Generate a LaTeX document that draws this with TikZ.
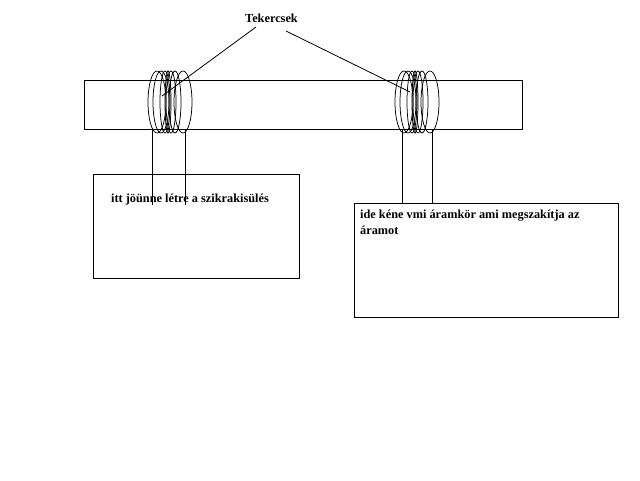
\documentclass[tikz,border=0pt]{standalone}
\usepackage{fontspec}
\setmainfont{Liberation Serif}
\usetikzlibrary{
  positioning,
  shapes.geometric
}

\begin{document}
\begin{tikzpicture}[
  x=1pt, y=-1pt,
  bar/.style={draw, line width=1pt, inner sep=0pt, minimum width=438pt, minimum height=49pt},
  box/.style={draw, line width=1pt, inner sep=0pt},
  coil/.style={draw, ellipse, line width=0.75pt, inner sep=0pt, minimum height=62pt},
  lead/.style={line width=1pt},
  pointer/.style={line width=0.8pt},
  label/.style={font=\bfseries\fontsize{12.3}{16}\selectfont, inner sep=0pt, anchor=base west},
]
\useasboundingbox (0,0) rectangle (640,480);

\node[bar] (bar) at (303,104.5) {};
\node[box, minimum width=206pt, minimum height=104pt, below right=44pt and 9pt of bar.south west] (leftbox) {};
\node[box, minimum width=264pt, minimum height=114pt] (rightbox) at (486,260) {};

% coils
\foreach \cx/\wd [count=\i] in {157/18, 161/16, 165/10, 168/6, 171/10, 175/12, 183/18} {
  \node[coil, minimum width=\wd pt] (coilA\i) at (\cx,102) {};
  \node[coil, minimum width=\wd pt] (coilB\i) at (\cx+247,102) {};
}

\node[label] (title) at (245,22) {Tekercsek};
\node[label] (lefttext) at (111,202) {itt jöünne létre a szikrakisülés};
\node[label] (righttext) at (360,218) {ide kéne vmi áramkör ami megszakítja az};
\node[label] (righttext2) at (360,234) {áramot};

\coordinate (leadA) at (152,129);
\coordinate (leadB) at (185,129);
\coordinate (leadAend) at (152,205);
\coordinate (leadBend) at (185,205);
\coordinate (leadC) at (402,129);
\coordinate (leadD) at (432,129);
\coordinate (leadCend) at (402,203);
\coordinate (leadDend) at (432,203);
\coordinate (tipA) at (162,96);
\coordinate (tipB) at (410,92);
\coordinate (startA) at (256,27);
\coordinate (startB) at (286,31);

\draw[lead] (leadA) -- (leadAend);
\draw[lead] (leadB) -- (leadBend);
\draw[lead] (leadC) -- (leadCend);
\draw[lead] (leadD) -- (leadDend);

\draw[pointer] (startA) -- (tipA);
\draw[pointer] (startB) -- (tipB);

\end{tikzpicture}
\end{document}
